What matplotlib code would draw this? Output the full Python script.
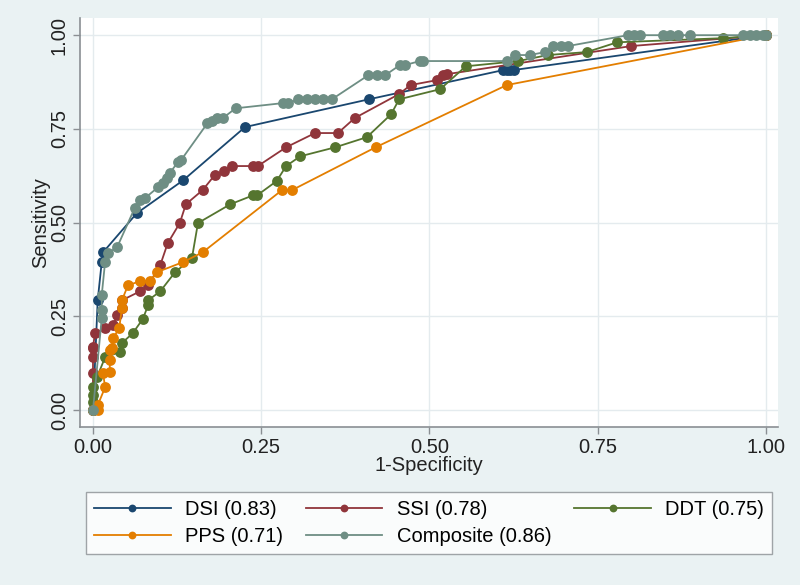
import matplotlib.pyplot as plt

# ROC points (x = 1-specificity, y = sensitivity)
dsi_x = [0, 0.007, 0.013, 0.015, 0.065, 0.134, 0.226, 0.41, 0.61, 0.615, 0.62, 0.625, 1]
dsi_y = [0, 0.293, 0.395, 0.421, 0.525, 0.613, 0.755, 0.829, 0.907, 0.907, 0.907, 0.907, 1]

ssi_x = [0, 0, 0, 0, 0, 0.003, 0.018, 0.03, 0.036, 0.043, 0.043, 0.07, 0.082, 0.1, 0.111,
         0.129, 0.138, 0.163, 0.181, 0.195, 0.207, 0.238, 0.245, 0.287, 0.33, 0.364, 0.389,
         0.455, 0.472, 0.511, 0.52, 0.526, 0.8, 1]
ssi_y = [0, 0.099, 0.141, 0.165, 0.168, 0.205, 0.219, 0.227, 0.253, 0.272, 0.293, 0.317, 0.333,
         0.387, 0.445, 0.499, 0.549, 0.587, 0.627, 0.637, 0.651, 0.651, 0.651, 0.701, 0.739,
         0.739, 0.779, 0.843, 0.867, 0.88, 0.893, 0.896, 0.971, 1]

ddt_x = [0, 0, 0, 0, 0.006, 0.018, 0.04, 0.043, 0.059, 0.074, 0.082, 0.082, 0.1, 0.122, 0.147,
         0.156, 0.204, 0.238, 0.244, 0.273, 0.287, 0.308, 0.36, 0.407, 0.443, 0.455, 0.516,
         0.554, 0.632, 0.676, 0.734, 0.779, 0.936, 1]
ddt_y = [0, 0.021, 0.04, 0.061, 0.088, 0.141, 0.155, 0.179, 0.205, 0.243, 0.28, 0.293, 0.317,
         0.368, 0.405, 0.499, 0.549, 0.573, 0.573, 0.611, 0.651, 0.677, 0.701, 0.728, 0.789,
         0.829, 0.856, 0.917, 0.931, 0.947, 0.955, 0.981, 0.992, 1]

pps_x = [0, 0.007, 0.007, 0.018, 0.015, 0.025, 0.025, 0.025, 0.028, 0.03, 0.039, 0.043, 0.043,
         0.052, 0.07, 0.085, 0.095, 0.134, 0.163, 0.281, 0.296, 0.42, 0.615, 1]
pps_y = [0, 0, 0.013, 0.061, 0.099, 0.101, 0.133, 0.16, 0.165, 0.192, 0.219, 0.272, 0.293,
         0.333, 0.344, 0.344, 0.368, 0.395, 0.421, 0.587, 0.587, 0.701, 0.867, 1]

comp_x = [0, 0.013, 0.013, 0.013, 0.018, 0.022, 0.036, 0.062, 0.07, 0.077, 0.097, 0.104, 0.11,
          0.114, 0.126, 0.131, 0.17, 0.177, 0.184, 0.193, 0.212, 0.283, 0.29, 0.305, 0.318,
          0.33, 0.342, 0.355, 0.409, 0.422, 0.434, 0.456, 0.463, 0.486, 0.49, 0.615, 0.627,
          0.649, 0.672, 0.684, 0.695, 0.706, 0.795, 0.804, 0.813, 0.847, 0.858, 0.869, 0.887,
          0.966, 0.976, 0.986, 0.996, 1]
comp_y = [0, 0.245, 0.267, 0.307, 0.395, 0.418, 0.435, 0.539, 0.56, 0.565, 0.595, 0.607, 0.62,
          0.632, 0.661, 0.667, 0.765, 0.771, 0.779, 0.779, 0.805, 0.819, 0.819, 0.829, 0.829,
          0.829, 0.829, 0.829, 0.893, 0.893, 0.893, 0.92, 0.92, 0.931, 0.931, 0.931, 0.947,
          0.947, 0.955, 0.971, 0.971, 0.971, 1, 1, 1, 1, 1, 1, 1, 1, 1, 1, 1, 1]

labels = ['DSI (0.83)', 'SSI (0.78)', 'DDT (0.75)', 'PPS (0.71)', 'Composite (0.86)']
colors = ['#1a476f', '#90353b', '#55752f', '#e37e00', '#6e8e84']
ticks = [0, 0.25, 0.5, 0.75, 1]
tick_labels = ['0.00', '0.25', '0.50', '0.75', '1.00']

plt.rcParams['font.family'] = ['Liberation Sans', 'DejaVu Sans']
fs = 14.5

fig = plt.figure(figsize=(8, 5.85), dpi=100, facecolor='#eaf2f3')
ax = fig.add_axes([0.1, 0.27, 0.8725, 0.70])
ax.set_facecolor('white')

series = [(dsi_x, dsi_y), (ssi_x, ssi_y), (ddt_x, ddt_y), (pps_x, pps_y), (comp_x, comp_y)]
lines = []
for (xs, ys), lab, c in zip(series, labels, colors):
    ln, = ax.plot(xs, ys, color=c, lw=1.3, marker='o', markersize=7.8,
                  markeredgewidth=0, label=lab)
    lines.append(ln)

ax.set_xlim(-0.0193, 1.018)
ax.set_ylim(-0.045, 1.047)
ax.set_xticks(ticks)
ax.set_xticklabels(tick_labels)
ax.set_yticks(ticks)
ax.set_yticklabels(tick_labels, rotation=90, va='center')
ax.grid(True, color='#e4ebee', lw=1)
ax.set_axisbelow(True)
for s in ['top', 'right']:
    ax.spines[s].set_visible(False)
for s in ['left', 'bottom']:
    ax.spines[s].set_color('#8a8f93')
    ax.spines[s].set_linewidth(1.2)
ax.tick_params(direction='out', length=5, width=1, color='#8a8f93', pad=3,
               labelsize=fs, labelcolor='#222222')
ax.set_xlabel('1-Specificity', fontsize=fs, labelpad=-1, color='#222222')
ax.set_ylabel('Sensitivity', fontsize=fs, labelpad=0, color='#222222')

order = [0, 3, 1, 4, 2]
leg = fig.legend([lines[i] for i in order], [labels[i] for i in order],
                 loc='lower left', bbox_to_anchor=(86 / 800, 31 / 585, 686 / 800, 62 / 585),
                 mode='expand', ncol=3, numpoints=1, handlelength=3.8, markerscale=0.72,
                 fontsize=fs, frameon=True, fancybox=False, edgecolor='#8a8f93',
                 borderaxespad=0, borderpad=0.4, labelspacing=0.4, handletextpad=0.7)
leg.get_frame().set_linewidth(1)

fig.savefig('out.png', dpi=100, facecolor=fig.get_facecolor())
